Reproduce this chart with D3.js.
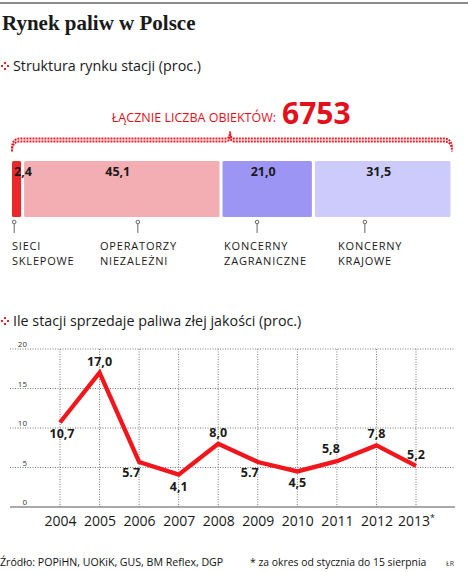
<!DOCTYPE html>
<html>
<head>
<meta charset="utf-8">
<script src="https://cdn.jsdelivr.net/npm/d3@7"></script>
<style>
  body { margin: 0; background: #fff; }
  text { font-family: "Open Sans", "Noto Sans", sans-serif; }
</style>
</head>
<body>
<div id="chart"></div>
<script>
// --- data ---
const segNames = [["SIECI", "SKLEPOWE"], ["OPERATORZY", "NIEZALEŻNI"], ["KONCERNY", "ZAGRANICZNE"], ["KONCERNY", "KRAJOWE"]];
const segValues = [2.4, 45.1, 21.0, 31.5];
const segLabels = ["2,4", "45,1", "21,0", "31,5"];
const totalCount = "6753";

const years = ["2004", "2005", "2006", "2007", "2008", "2009", "2010", "2011", "2012", "2013"];
const badShare = [10.7, 17.0, 5.7, 4.1, 8.0, 5.7, 4.5, 5.8, 7.8, 5.2];
const badLabels = ["10,7", "17,0", "5.7", "4,1", "8,0", "5.7", "4,5", "5,8", "7,8", "5,2"];
const yTicks = [0, 5, 10, 15, 20];

// layout helpers (not data)
const segColors = ["#e8282b", "#f2aeb3", "#9d95f4", "#cdcbfb"];
const pinPct = [0.5, 28.6, 55.7, 80.2];
const namePct = [0, 20, 48.2, 74.1];
const labelPlace = ["below", "above", "belowLeft", "below", "above", "belowLeft", "below", "aboveLeft", "above", "above"];

const W = 468, H = 572;
const svg = d3.select("#chart").append("svg").attr("width", W).attr("height", H);

// top rule
svg.append("line").attr("x1", 0).attr("x2", W).attr("y1", 3).attr("y2", 3)
    .attr("stroke", "#8a8a8a").attr("stroke-width", 2);

svg.append("text").attr("x", 2).attr("y", 30)
    .style("font-family", "'Liberation Serif', serif").style("font-weight", "bold").style("font-size", "21px")
    .attr("fill", "#1a1a1a").text("Rynek paliw w Polsce");

function redIcon(x, y) {
    const pts = [[0, 0], [3, -3], [3, 3], [6, 0]];
    svg.append("g").selectAll("rect").data(pts).enter().append("rect")
        .attr("x", d => x + d[0]).attr("y", d => y + d[1] - 1)
        .attr("width", 2).attr("height", 2).attr("fill", "#e8202a");
}

redIcon(1, 66);
svg.append("text").attr("x", 13).attr("y", 71).style("font-size", "14.3px").attr("fill", "#1a1a1a")
    .text("Struktura rynku stacji (proc.)");

// total
svg.append("text").attr("x", 276).attr("y", 122).attr("text-anchor", "end")
    .style("font-size", "12.5px").attr("fill", "#e3101b").text("ŁĄCZNIE LICZBA OBIEKTÓW:");
svg.append("text").attr("x", 282).attr("y", 124)
    .style("font-size", "30px").style("font-weight", "bold").attr("fill", "#e3101b").text(totalCount);

// brace
const xs = d3.scaleLinear().domain([0, 100]).range([12, 452]);
const braceY = 140;
const brace = d3.path();
brace.moveTo(xs(0), 150);
brace.quadraticCurveTo(xs(0), braceY, xs(0) + 8, braceY);
brace.lineTo(226, braceY);
brace.quadraticCurveTo(230, braceY, 230, 133);
brace.quadraticCurveTo(230, braceY, 234, braceY);
brace.lineTo(xs(100) - 8, braceY);
brace.quadraticCurveTo(xs(100), braceY, xs(100), 150);
["-1.5", "1.5"].forEach(o => {
    svg.append("path").attr("d", brace.toString()).attr("fill", "none")
        .attr("transform", `translate(0,${o})`)
        .attr("stroke", "#e8202a").attr("stroke-width", 2).attr("stroke-dasharray", "2,1");
});

// stacked bar
const cum = d3.cumsum(segValues);
const segs = segValues.map((v, i) => ({ v, start: cum[i] - v, end: cum[i], i }));
const barTop = 161, barH = 56;
svg.append("g").selectAll("rect").data(segs).enter().append("rect")
    .attr("x", d => xs(d.start) + (d.i > 0 ? 1.5 : 0))
    .attr("width", d => xs(d.end) - xs(d.start) - (d.i > 0 ? 3 : 1.5))
    .attr("y", barTop).attr("height", barH).attr("rx", 1.5)
    .attr("fill", d => segColors[d.i]);

svg.append("g").selectAll("text").data(segs).enter().append("text")
    .attr("x", d => d.i === 0 ? xs(d.start) + 2 : (xs(d.start) + xs(d.end)) / 2 - 4)
    .attr("y", 176).attr("text-anchor", d => d.i === 0 ? "start" : "middle")
    .style("font-size", "12.5px").style("font-weight", "bold").attr("fill", "#1a1a1a")
    .text(d => segLabels[d.i]);

// pins
const pins = svg.append("g").selectAll("g").data(pinPct).enter().append("g");
pins.append("line").attr("x1", d => xs(d)).attr("x2", d => xs(d))
    .attr("y1", 222).attr("y2", 233).attr("stroke", "#666").attr("stroke-width", 1);
pins.append("circle").attr("cx", d => xs(d)).attr("cy", 222).attr("r", 1.8)
    .attr("fill", "#fff").attr("stroke", "#666").attr("stroke-width", 1);

// category names, one text per line
[0, 1].forEach(j => {
    svg.append("g").selectAll("text").data(segNames).enter().append("text")
        .attr("x", (d, i) => xs(namePct[i])).attr("y", 249.5 + j * 15)
        .style("font-size", "11px").style("letter-spacing", "0.8px").attr("fill", "#1a1a1a")
        .text(d => d[j]);
});

// second chart
redIcon(1, 321);
svg.append("text").attr("x", 13).attr("y", 326).style("font-size", "14.3px").attr("fill", "#1a1a1a")
    .text("Ile stacji sprzedaje paliwa złej jakości (proc.)");

const x = d3.scalePoint().domain(years).range([60, 416]);
const y = d3.scaleLinear().domain([0, 20]).range([507, 349]);

const grid = svg.append("g");
grid.selectAll(".h").data(yTicks.filter(t => t > 0)).enter().append("line")
    .attr("x1", 10).attr("x2", 455).attr("y1", d => y(d)).attr("y2", d => y(d))
    .attr("stroke", "#777").attr("stroke-width", 1).attr("stroke-dasharray", "1,1.5");
grid.selectAll(".v").data(years).enter().append("line")
    .attr("x1", d => x(d)).attr("x2", d => x(d)).attr("y1", y(20)).attr("y2", y(0))
    .attr("stroke", "#777").attr("stroke-width", 1).attr("stroke-dasharray", "1,1.5");

svg.append("line").attr("x1", 10).attr("x2", 455).attr("y1", y(0)).attr("y2", y(0))
    .attr("stroke", "#555").attr("stroke-width", 1.2);

const yAxis = svg.append("g").attr("transform", "translate(27,0)")
    .call(d3.axisLeft(y).tickValues(yTicks).tickSize(0).tickPadding(0));
yAxis.select(".domain").remove();
yAxis.selectAll("text").attr("dy", "-2.5").style("font-size", "8px")
    .style("font-family", "'Open Sans', sans-serif").attr("fill", "#333");

const xAxis = svg.append("g").attr("transform", `translate(0,${y(0)})`)
    .call(d3.axisBottom(x).tickSize(0).tickPadding(0).tickFormat(""));
xAxis.select(".domain").remove();
xAxis.selectAll(".tick text").remove();
xAxis.selectAll(".tick").append("text").attr("y", 19).attr("text-anchor", "middle")
    .style("font-size", "14px").attr("fill", "#1a1a1a")
    .each(function (d, i) {
        const t = d3.select(this);
        t.append("tspan").text(d);
        if (i === years.length - 1) {
            t.append("tspan").attr("dy", -5).style("font-size", "9px").text("*");
        }
    });

const line = d3.line().x((d, i) => x(years[i])).y(d => y(d));
svg.append("path").datum(badShare).attr("d", line).attr("fill", "none")
    .attr("stroke", "#f2151b").attr("stroke-width", 4.3).attr("stroke-linejoin", "miter");

const off = {
    below: [0, 16], above: [0, -7], belowLeft: [-8, 15], aboveLeft: [-6, -8]
};
svg.append("g").selectAll("text").data(badShare).enter().append("text")
    .attr("x", (d, i) => x(years[i]) + off[labelPlace[i]][0] + (i === 0 ? 2 : 0))
    .attr("y", (d, i) => y(d) + off[labelPlace[i]][1])
    .attr("text-anchor", "middle").style("font-size", "12.5px").style("font-weight", "bold")
    .attr("fill", "#1a1a1a").text((d, i) => badLabels[i]);

// footer
svg.append("text").attr("x", 0).attr("y", 566).style("font-size", "10.6px").attr("fill", "#111")
    .text("Źródło: POPiHN, UOKiK, GUS, BM Reflex, DGP");
svg.append("text").attr("x", 250).attr("y", 566).style("font-size", "10.4px").attr("fill", "#111")
    .text("* za okres od stycznia do 15 sierpnia");
svg.append("text").attr("x", 446).attr("y", 566).style("font-size", "7px").attr("fill", "#333")
    .text("ŁR");
</script>
</body>
</html>
